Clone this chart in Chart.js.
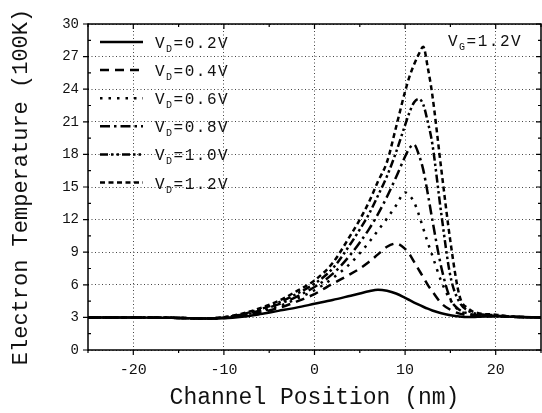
<!DOCTYPE html>
<html>
<head>
<meta charset="utf-8">
<script src="https://cdn.jsdelivr.net/npm/chart.js@4.4.0/dist/chart.umd.min.js"></script>
<style>
  html, body { margin: 0; padding: 0; background: #fff; }
  #wrap { width: 542px; height: 413px; }
</style>
</head>
<body>
<div id="wrap"><canvas id="myChart"></canvas></div>
<script>
// channel position (nm) shared by all curves
var position = [-25, -20, -15, -12, -10, -8, -6, -4, -2, 0, 2, 4, 5, 6, 7, 8, 9, 10, 10.5, 11, 11.5, 12, 12.5, 13, 14, 15, 16, 17, 18, 20, 22, 25];

// electron temperature (100K), one list per drain voltage
var vd02 = [3.0, 3.0, 2.95, 2.9, 2.92, 3.05, 3.3, 3.6, 3.9, 4.25, 4.6, 5.0, 5.2, 5.4, 5.55, 5.45, 5.2, 4.8, 4.58, 4.37, 4.17, 3.98, 3.8, 3.64, 3.38, 3.2, 3.08, 3.03, 3.05, 3.1, 3.05, 3.0];
var vd04 = [3.0, 3.0, 2.95, 2.9, 2.95, 3.15, 3.45, 3.85, 4.45, 5.15, 6.1, 7.0, 7.5, 8.1, 8.8, 9.5, 9.8, 9.3, 8.8, 8.1, 7.4, 6.7, 6.0, 5.4, 4.3, 3.7, 3.35, 3.2, 3.15, 3.1, 3.05, 3.0];
var vd06 = [3.0, 3.0, 2.95, 2.9, 2.97, 3.2, 3.55, 4.0, 4.7, 5.5, 6.6, 8.0, 8.9, 9.9, 11.0, 12.1, 13.3, 14.5, 14.2, 13.6, 12.5, 11.2, 9.9, 8.7, 6.3, 4.6, 3.6, 3.3, 3.2, 3.1, 3.05, 3.0];
var vd08 = [3.0, 3.0, 2.95, 2.9, 3.0, 3.25, 3.65, 4.2, 4.9, 5.8, 7.0, 8.8, 9.9, 11.1, 12.5, 14.1, 15.9, 17.8, 18.6, 18.9, 18.0, 16.6, 14.4, 12.0, 7.6, 4.7, 3.7, 3.35, 3.2, 3.15, 3.05, 3.0];
var vd10 = [3.0, 3.0, 2.95, 2.9, 3.0, 3.3, 3.75, 4.35, 5.15, 6.1, 7.5, 9.8, 11.1, 12.5, 14.2, 16.0, 18.2, 20.7, 21.9, 22.8, 23.1, 22.6, 21.0, 19.0, 12.5, 6.8, 4.4, 3.6, 3.3, 3.2, 3.05, 3.0];
var vd12 = [3.0, 3.0, 2.95, 2.9, 3.02, 3.35, 3.85, 4.5, 5.4, 6.4, 8.0, 10.6, 12.0, 13.6, 15.5, 17.3, 20.5, 23.8, 25.2, 26.3, 27.2, 27.9, 26.0, 23.5, 16.6, 10.0, 5.0, 3.8, 3.4, 3.25, 3.05, 3.0];

var seriesValues = [vd02, vd04, vd06, vd08, vd10, vd12];
var seriesVoltages = ['0.2V', '0.4V', '0.6V', '0.8V', '1.0V', '1.2V'];
var gateLabel = '1.2V';

var xTicks = [-20, -10, 0, 10, 20];
var yTicks = [0, 3, 6, 9, 12, 15, 18, 21, 24, 27, 30];

var dashes = [[], [9, 6], [2.5, 6], [10, 4, 2.5, 4], [8, 3, 2.5, 3, 2.5, 3], [5, 3.5]];
var FONT = "'Liberation Mono', 'DejaVu Sans Mono', monospace";

// box, tick marks on all four sides
var frameTicks = {
  id: 'frameTicks',
  afterDraw: function (chart) {
    var ctx = chart.ctx, a = chart.chartArea;
    var x = chart.scales.x, y = chart.scales.y;
    ctx.save();
    ctx.strokeStyle = '#000';
    ctx.lineWidth = 1.5;
    ctx.strokeRect(a.left, a.top, a.right - a.left, a.bottom - a.top);
    ctx.lineWidth = 1.2;
    ctx.beginPath();
    for (var v = -25; v <= 25; v += 5) {
      var px = x.getPixelForValue(v);
      var len = (v % 10 === 0) ? 5 : 3;
      ctx.moveTo(px, a.bottom); ctx.lineTo(px, a.bottom + len);
      ctx.moveTo(px, a.top); ctx.lineTo(px, a.top + len);
    }
    for (var w = 0; w <= 30; w += 1.5) {
      var py = y.getPixelForValue(w);
      if (w % 3 === 0) {
        ctx.moveTo(a.left - 5, py); ctx.lineTo(a.left + 1, py);
        ctx.moveTo(a.right, py); ctx.lineTo(a.right - 5, py);
      } else {
        ctx.moveTo(a.left, py); ctx.lineTo(a.left + 3, py);
        ctx.moveTo(a.right, py); ctx.lineTo(a.right - 3, py);
      }
    }
    ctx.stroke();
    ctx.restore();
  }
};

// legend with subscripts, plus the gate voltage note
function drawSubLabel(ctx, x, y, sub, rest) {
  ctx.font = '16px ' + FONT;
  ctx.fillText('V', x, y);
  var w = ctx.measureText('V').width;
  ctx.font = '10px ' + FONT;
  ctx.fillText(sub, x + w, y + 4);
  var w2 = ctx.measureText(sub).width;
  ctx.font = '16px ' + FONT;
  ctx.fillText('=' + rest, x + w + w2, y);
}

var subLegend = {
  id: 'subLegend',
  afterDatasetsDraw: function (chart) {
    var ctx = chart.ctx;
    ctx.save();
    ctx.fillStyle = '#111';
    ctx.strokeStyle = '#000';
    ctx.textBaseline = 'alphabetic';
    ctx.letterSpacing = '1.5px';
    chart.data.datasets.forEach(function (ds, i) {
      var yy = 42 + i * 28.1;
      ctx.lineWidth = 2.5;
      ctx.setLineDash(ds.borderDash);
      ctx.beginPath();
      ctx.moveTo(100, yy);
      ctx.lineTo(143, yy);
      ctx.stroke();
      ctx.setLineDash([]);
      drawSubLabel(ctx, 155, yy + 6, 'D', seriesVoltages[i]);
    });
    drawSubLabel(ctx, 448, 46, 'G', gateLabel);
    ctx.restore();
  }
};

var ctx = document.getElementById('myChart').getContext('2d');
var myChart = new Chart(ctx, {
  type: 'line',
  data: {
    datasets: seriesValues.map(function (vals, i) {
      return {
        label: 'VD=' + seriesVoltages[i],
        data: position.map(function (p, j) { return { x: p, y: vals[j] }; }),
        borderColor: '#000',
        borderWidth: 2.5,
        borderDash: dashes[i],
        pointRadius: 0,
        fill: false,
        cubicInterpolationMode: 'monotone'
      };
    })
  },
  options: {
    responsive: true,
    maintainAspectRatio: false,
    animation: false,
    layout: { padding: { top: 24, right: 1, left: 0, bottom: 0 } },
    plugins: { legend: { display: false }, tooltip: { enabled: false } },
    scales: {
      x: {
        type: 'linear',
        min: -25,
        max: 25,
        afterBuildTicks: function (s) { s.ticks = xTicks.map(function (v) { return { value: v }; }); },
        afterFit: function (s) { s.height = 63; },
        grid: { color: '#444', lineWidth: 1, drawTicks: false },
        border: { display: false, dash: [1, 2.5] },
        ticks: { color: '#111', font: { family: FONT, size: 15 }, padding: 11, maxRotation: 0 },
        title: { display: true, text: 'Channel Position (nm)', color: '#111', font: { family: FONT, size: 23 }, padding: { top: 0, bottom: 1 } }
      },
      y: {
        min: 0,
        max: 30,
        afterBuildTicks: function (s) { s.ticks = yTicks.map(function (v) { return { value: v }; }); },
        afterFit: function (s) { s.width = 88; },
        grid: { color: '#444', lineWidth: 1, drawTicks: false },
        border: { display: false, dash: [1, 2.5] },
        ticks: { color: '#111', font: { family: FONT, size: 14 }, padding: 9 },
        title: { display: true, text: 'Electron Temperature (100K)', color: '#111', font: { family: FONT, size: 22 }, padding: { top: 8, bottom: 0 } }
      }
    }
  },
  plugins: [frameTicks, subLegend]
});
</script>
</body>
</html>
